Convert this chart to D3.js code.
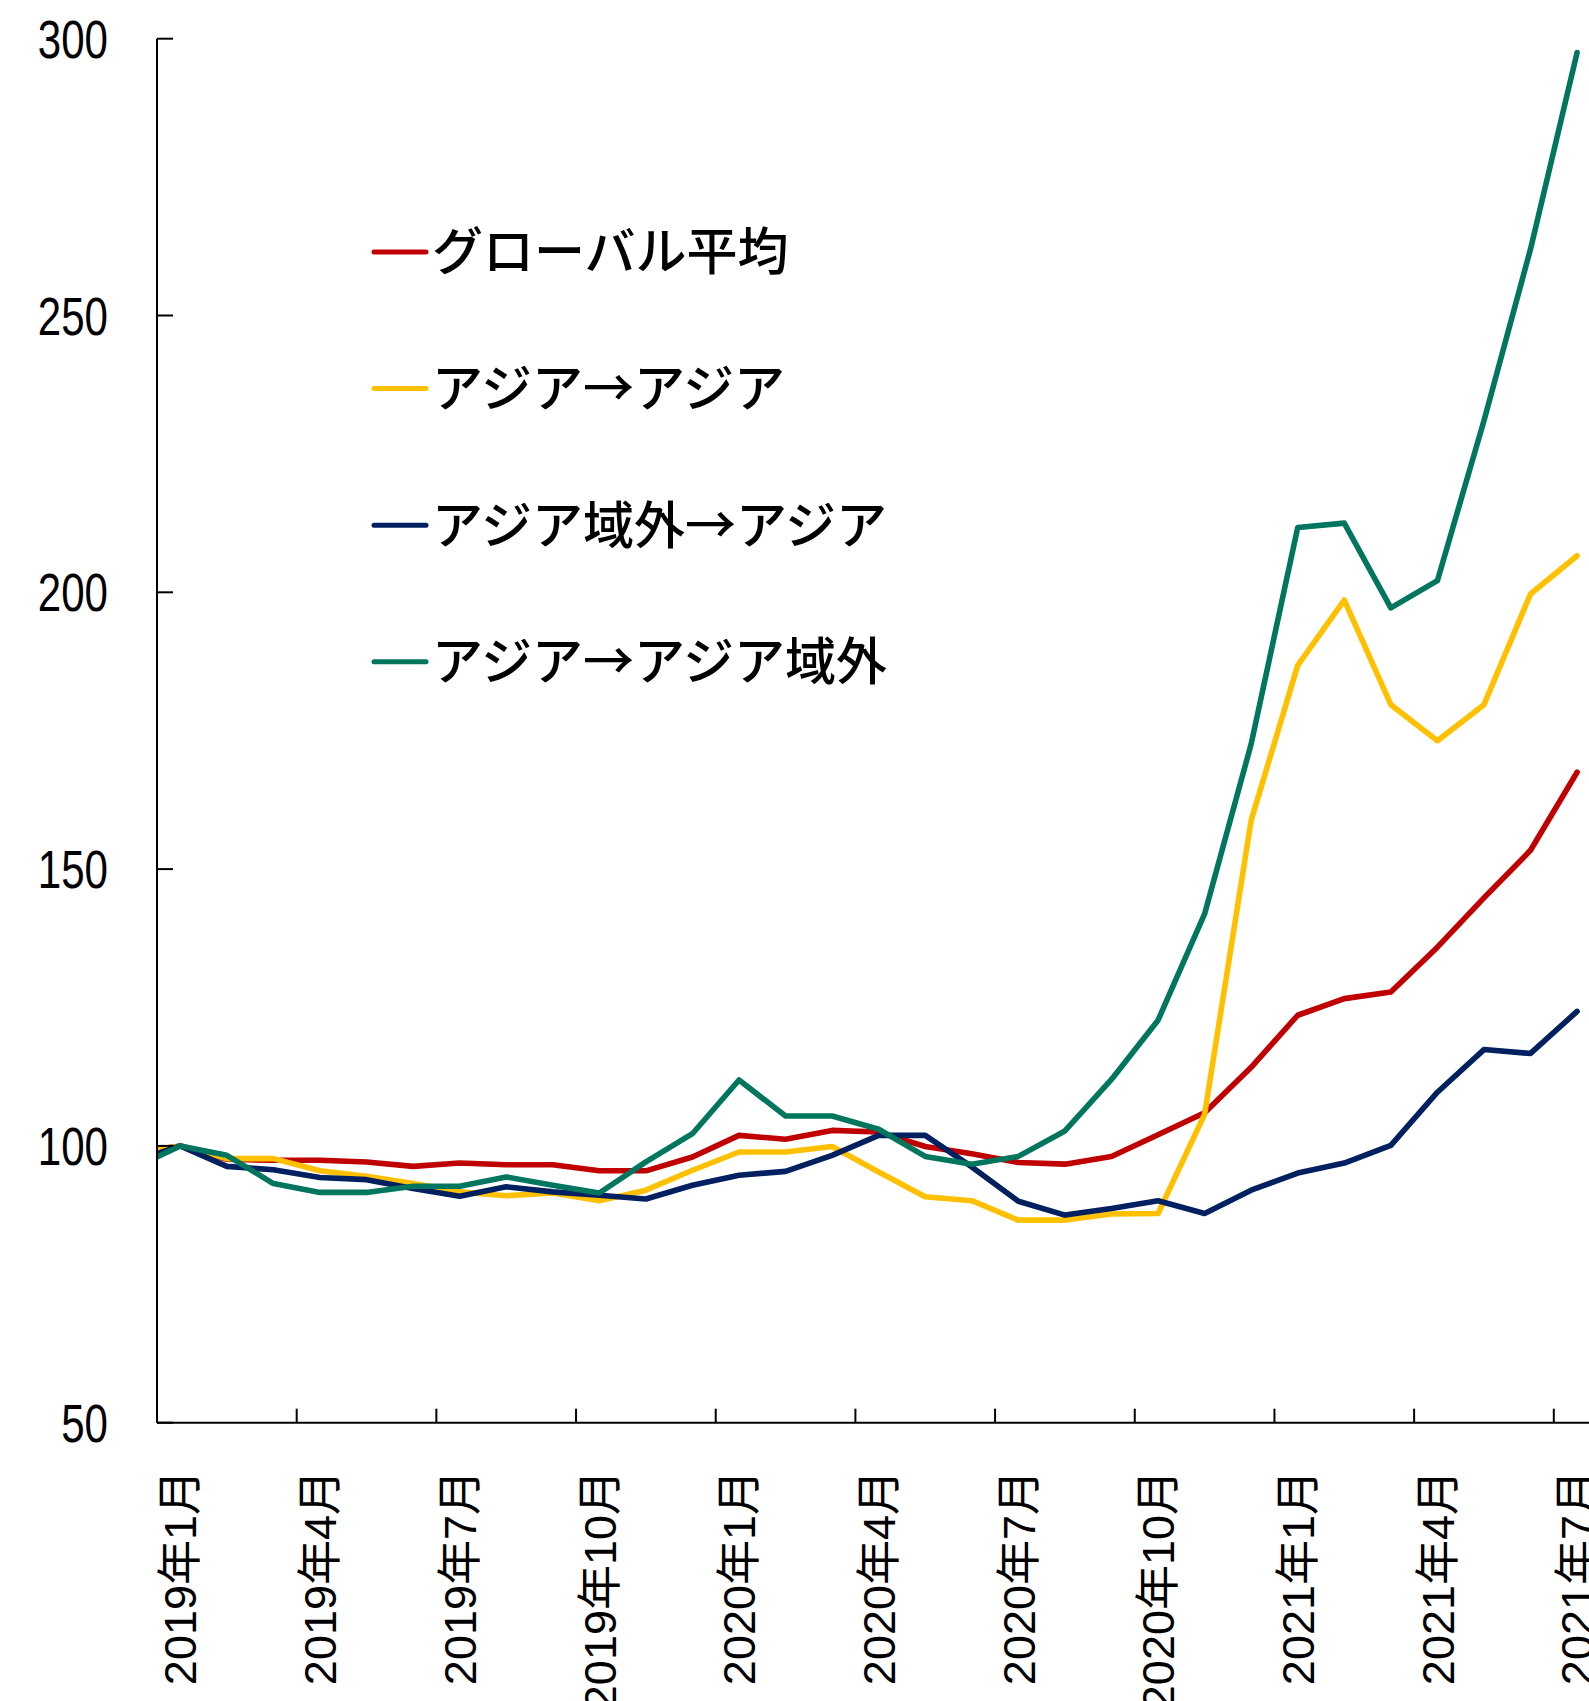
<!DOCTYPE html>
<html>
<head>
<meta charset="utf-8">
<script src="https://cdn.jsdelivr.net/npm/d3@7"></script>
<style>
  html, body { margin: 0; padding: 0; background: #fff; }
  svg { display: block; }
  .tick-y { font-family: "Liberation Sans Narrow", "Arial Narrow", "Liberation Sans", sans-serif; font-size: 53px; }
  .tick-x { font-family: "Liberation Sans", Arial, "Noto Sans CJK JP", sans-serif; font-size: 45px; }
  .legend-label { font-family: "Noto Sans CJK JP", sans-serif; font-size: 51px; font-weight: 500; }
</style>
</head>
<body>
<div id="chart"></div>
<script>
  // months (2018年12月 sits left of the axis and is clipped away)
  const months = [
    '2018年12月',
    '2019年1月', '2019年2月', '2019年3月', '2019年4月', '2019年5月', '2019年6月',
    '2019年7月', '2019年8月', '2019年9月', '2019年10月', '2019年11月', '2019年12月',
    '2020年1月', '2020年2月', '2020年3月', '2020年4月', '2020年5月', '2020年6月',
    '2020年7月', '2020年8月', '2020年9月', '2020年10月', '2020年11月', '2020年12月',
    '2021年1月', '2021年2月', '2021年3月', '2021年4月', '2021年5月', '2021年6月',
    '2021年7月'
  ];

  const tickMonths = [
    '2019年1月', '2019年4月', '2019年7月', '2019年10月',
    '2020年1月', '2020年4月', '2020年7月', '2020年10月',
    '2021年1月', '2021年4月', '2021年7月'
  ];

  const yTicks = [50, 100, 150, 200, 250, 300];

  const seriesNames = ['グローバル平均', 'アジア→アジア', 'アジア域外→アジア', 'アジア→アジア域外'];
  const seriesColors = ['#C00000', '#FFC000', '#002060', '#00765F'];

  const globalAvg = [98.8,
    100, 97.6, 97.4, 97.4, 97.1, 96.3, 96.9, 96.6, 96.6, 95.5, 95.5, 98.0,
    101.9, 101.2, 102.8, 102.5, 99.9, 98.6, 97.0, 96.7, 98.1, 102.0, 106.0, 114.2,
    123.6, 126.6, 127.8, 135.9, 144.8, 153.4, 167.5];

  const asiaToAsia = [98.5,
    100, 97.7, 97.7, 95.5, 94.5, 93.2, 91.7, 91.0, 91.5, 90.1, 92.0, 95.6,
    98.9, 98.9, 99.9, 95.3, 90.8, 90.1, 86.6, 86.6, 87.7, 87.8, 105.7, 158.8,
    186.8, 198.6, 179.7, 173.2, 179.7, 199.7, 206.6];

  const outsideToAsia = [97.2,
    100, 96.3, 95.7, 94.3, 93.9, 92.3, 90.9, 92.6, 91.7, 91.1, 90.4, 92.9,
    94.7, 95.4, 98.3, 101.9, 101.9, 96.2, 90.0, 87.5, 88.7, 90.1, 87.8, 92.0,
    95.1, 96.9, 100.1, 109.7, 117.4, 116.7, 124.3];

  const asiaToOutside = [96.0,
    100, 98.3, 93.2, 91.6, 91.6, 92.7, 92.7, 94.4, 92.9, 91.5, 97.1, 102.2,
    111.9, 105.4, 105.4, 103.0, 98.1, 96.7, 98.1, 102.7, 112.0, 122.7, 141.9, 172.6,
    211.7, 212.5, 197.2, 202.1, 231.0, 262.0, 297.5];

  const seriesValues = [globalAvg, asiaToAsia, outsideToAsia, asiaToOutside];

  const w = 1589;
  const h = 1701;

  const axisX = 157;
  const axisY = 1422.7;
  const topY = 38.7;
  const step = 46.56;
  const tickLen = 16;

  const x = d3.scaleBand()
    .domain(months)
    .range([axisX - step, axisX + (months.length - 1) * step]);

  const y = d3.scaleLinear().domain([50, 300]).range([axisY, topY]);

  const svg = d3.select('#chart')
    .append('svg')
      .attr('width', w)
      .attr('height', h);

  svg.append('defs').append('clipPath')
      .attr('id', 'plotClip')
    .append('rect')
      .attr('x', axisX)
      .attr('y', 0)
      .attr('width', w - axisX)
      .attr('height', h);

  // lines
  const line = d3.line()
    .x((d, i) => x(months[i]) + x.bandwidth() / 2)
    .y(d => y(d));

  const plot = svg.append('g').attr('clip-path', 'url(#plotClip)');

  plot.selectAll('path.series')
    .data(seriesValues)
  .enter().append('path')
    .classed('series', true)
    .attr('d', d => line(d))
    .style('fill', 'none')
    .style('stroke', (d, i) => seriesColors[i])
    .style('stroke-width', 5.6)
    .style('stroke-linejoin', 'round')
    .style('stroke-linecap', 'round');

  // y axis
  const yAxis = svg.append('g');
  yAxis.append('line')
    .attr('x1', axisX).attr('x2', axisX)
    .attr('y1', y(300)).attr('y2', y(50))
    .style('stroke', '#000').style('stroke-width', 2);

  yAxis.selectAll('line.tick')
    .data(yTicks)
  .enter().append('line')
    .classed('tick', true)
    .attr('x1', axisX).attr('x2', axisX + tickLen)
    .attr('y1', d => y(d)).attr('y2', d => y(d))
    .style('stroke', '#000').style('stroke-width', 2);

  yAxis.selectAll('text')
    .data(yTicks)
  .enter().append('text')
    .classed('tick-y', true)
    .attr('x', 108)
    .attr('y', d => y(d))
    .attr('dy', '0.36em')
    .attr('text-anchor', 'end')
    .attr('textLength', d => String(d).length * 23.4)
    .attr('lengthAdjust', 'spacingAndGlyphs')
    .text(d => d);

  // x axis
  const xAxis = svg.append('g');
  xAxis.append('line')
    .attr('x1', axisX).attr('x2', w)
    .attr('y1', axisY).attr('y2', axisY)
    .style('stroke', '#000').style('stroke-width', 2);

  xAxis.selectAll('line.tick')
    .data(tickMonths)
  .enter().append('line')
    .classed('tick', true)
    .attr('x1', d => x(d)).attr('x2', d => x(d))
    .attr('y1', axisY).attr('y2', axisY - tickLen + 2)
    .style('stroke', '#000').style('stroke-width', 2);

  xAxis.selectAll('text')
    .data(tickMonths)
  .enter().append('text')
    .classed('tick-x', true)
    .attr('transform', d => 'translate(' + (x(d) + x.bandwidth() / 2) + ',1470) rotate(-90)')
    .attr('dy', '0.36em')
    .attr('text-anchor', 'end')
    .text(d => d);

  // legend
  const legendX = 374;
  const legendY = 252;
  const legendStep = 136.6;

  const legend = svg.append('g').selectAll('g')
    .data(seriesNames)
  .enter().append('g')
    .attr('transform', (d, i) => 'translate(' + legendX + ',' + (legendY + i * legendStep) + ')');

  legend.append('line')
    .attr('x1', 0).attr('x2', 52)
    .attr('y1', 0).attr('y2', 0)
    .style('stroke', (d, i) => seriesColors[i])
    .style('stroke-width', 5)
    .style('stroke-linecap', 'round');

  legend.append('text')
    .classed('legend-label', true)
    .attr('x', 58)
    .attr('dy', '0.36em')
    .text(d => d);
</script>
</body>
</html>
